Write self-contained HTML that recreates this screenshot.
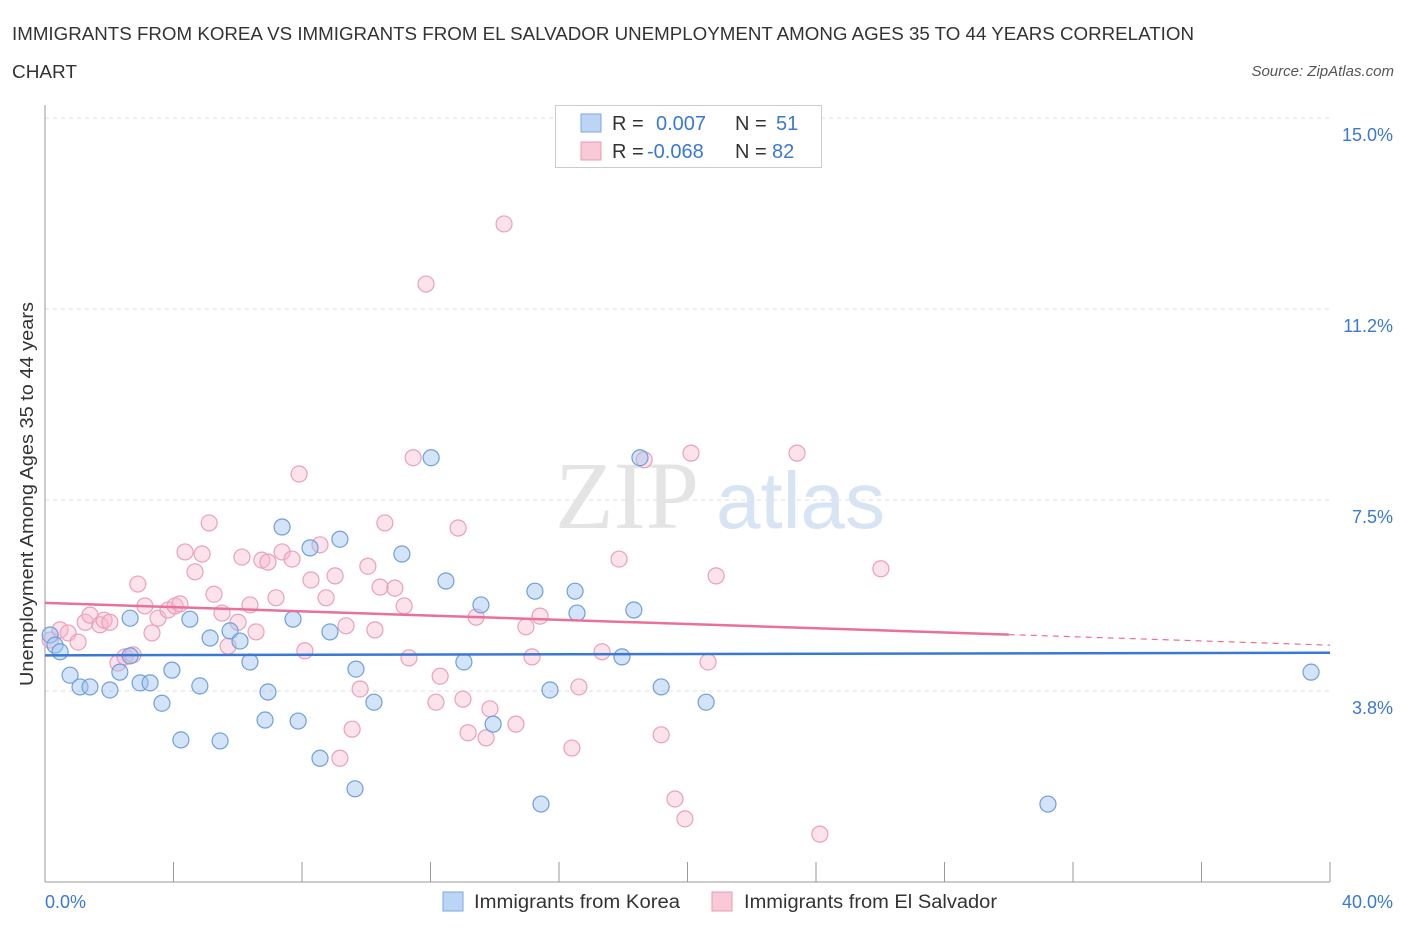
<!DOCTYPE html>
<html><head><meta charset="utf-8">
<style>
body{margin:0;background:#fff;font-family:"Liberation Sans",sans-serif;}
svg{display:block}
</style></head>
<body>
<svg id="chart" width="1406" height="930">
<text x="12" y="40" font-size="18" fill="#333" textLength="1182" lengthAdjust="spacingAndGlyphs">IMMIGRANTS FROM KOREA VS IMMIGRANTS FROM EL SALVADOR UNEMPLOYMENT AMONG AGES 35 TO 44 YEARS CORRELATION</text>
<text x="12" y="78" font-size="18" fill="#333" textLength="65" lengthAdjust="spacingAndGlyphs">CHART</text>
<text x="1394" y="76" font-size="15" fill="#555" font-style="italic" text-anchor="end">Source: ZipAtlas.com</text>
<g id="grid"></g>
<g>
<text x="555" y="528" font-size="96" fill="#e4e4e4" font-family="Liberation Serif,serif">ZIP</text>
<text x="716" y="528" font-size="80" fill="#d6e4f4">atlas</text>
</g>
<g id="axes"></g>
<g id="pts"></g>
<g id="trend"></g>
<text transform="translate(33,494) rotate(-90)" font-size="18" fill="#333" text-anchor="middle" textLength="384" lengthAdjust="spacingAndGlyphs">Unemployment Among Ages 35 to 44 years</text>
<g>
<rect x="555.5" y="105.5" width="266" height="62" fill="#fff" stroke="#ccc"/>
<rect x="581" y="114" width="20" height="18" fill="#bcd5f5" stroke="#7aa6e0"/>
<rect x="581" y="142" width="20" height="18" fill="#f9c9d8" stroke="#e99ab5"/>
<text x="612" y="130" font-size="20" fill="#333">R = <tspan fill="#3a78d4" x="656">0.007</tspan><tspan x="735">N = </tspan><tspan fill="#3a78d4" x="776">51</tspan></text>
<text x="612" y="158" font-size="20" fill="#333">R = <tspan fill="#3a78d4" x="647">-0.068</tspan><tspan x="735">N = </tspan><tspan fill="#3a78d4" x="772">82</tspan></text>
</g>
<g>
<rect x="443" y="892" width="20" height="19" fill="#bcd5f5" stroke="#7aa6e0"/>
<text x="474" y="908" font-size="19" fill="#333" textLength="206" lengthAdjust="spacingAndGlyphs">Immigrants from Korea</text>
<rect x="712" y="892" width="20" height="19" fill="#f9c9d8" stroke="#e99ab5"/>
<text x="744" y="908" font-size="19" fill="#333" textLength="253" lengthAdjust="spacingAndGlyphs">Immigrants from El Salvador</text>
</g>
</svg>
<script>
const koreaX=[0.16,0.31,0.47,0.78,1.09,1.40,2.02,2.33,2.65,2.65,2.96,3.27,3.64,3.95,4.23,4.51,4.82,5.14,5.45,5.76,6.07,6.38,6.85,6.94,7.38,7.72,7.88,8.25,8.56,8.87,9.18,9.65,9.68,10.24,11.11,12.02,12.48,13.04,13.57,13.95,15.25,15.44,15.72,16.50,16.56,17.96,18.33,18.52,19.18,20.58,31.22,39.41];
const koreaY=[4.85,4.65,4.52,4.06,3.83,3.83,3.77,4.12,5.18,4.44,3.91,3.91,3.51,4.16,2.79,5.16,3.85,4.79,2.77,4.93,4.73,4.32,3.18,3.73,6.97,5.16,3.16,6.56,2.43,4.91,6.73,1.83,4.18,3.53,6.44,8.33,5.91,4.32,5.44,3.10,5.71,1.53,3.77,5.71,5.28,4.42,5.34,8.33,3.83,3.53,1.53,4.12];
const salvX=[0.16,0.47,0.72,1.03,1.25,1.40,1.71,1.84,2.02,2.27,2.49,2.74,2.89,3.11,3.33,3.52,3.83,4.05,4.20,4.36,4.67,4.89,5.11,5.26,5.51,5.70,6.01,6.13,6.38,6.57,6.75,6.94,7.19,7.38,7.69,7.91,8.09,8.28,8.56,8.75,9.03,9.18,9.37,9.56,9.81,10.05,10.27,10.43,10.58,10.89,11.18,11.33,11.46,11.86,12.17,12.30,12.86,13.01,13.17,13.42,13.73,13.85,14.29,14.66,14.97,15.16,15.41,16.40,16.62,17.34,17.87,18.65,19.18,19.61,19.92,20.11,20.64,20.89,23.41,24.12,26.02];
const salvY=[4.75,4.95,4.89,4.71,5.10,5.24,5.05,5.14,5.10,4.30,4.42,4.46,5.85,5.42,4.89,5.18,5.34,5.42,5.46,6.48,6.09,6.44,7.05,5.65,5.28,4.63,5.10,6.38,5.44,4.91,6.32,6.28,5.58,6.48,6.34,8.01,4.54,5.93,6.62,5.58,6.01,2.43,5.03,3.00,3.79,6.20,4.95,5.79,7.05,5.77,5.42,4.40,8.33,11.74,3.53,4.04,6.95,3.59,2.93,5.20,2.83,3.40,12.92,3.10,5.01,4.42,5.22,2.63,3.83,4.52,6.34,8.29,2.89,1.63,1.24,8.42,4.32,6.01,8.42,0.94,6.15];
const yTicks=[3.75,7.5,11.25,15.0];
const yTickLabels=["3.8%","7.5%","11.2%","15.0%"];
const koreaTrend=[4.45,4.50];
const salvTrend=[5.48,4.65];
const salvSolidEnd=30.0;

const X=v=>45+v/40*1285, Y=v=>882-v/3.75*191;
const NS="http://www.w3.org/2000/svg";
function mk(tag,parent,attrs){const e=document.createElementNS(NS,tag);for(const k in attrs)e.setAttribute(k,attrs[k]);parent.appendChild(e);return e;}
const grid=document.getElementById('grid'),axes=document.getElementById('axes'),pts=document.getElementById('pts'),trend=document.getElementById('trend');
yTicks.forEach((t,i)=>{
 const l=mk('line',grid,{x1:45,x2:1330,y1:Y(t),y2:Y(t),stroke:'#ddd','stroke-dasharray':'4,4'});
 
 
 const tx=mk('text',axes,{x:1393,y:Y(t)+23,'font-size':18,fill:'#3a78d4','text-anchor':'end'});
 tx.textContent=yTickLabels[i];
 
 
});
const ya=mk('line',axes,{x1:45,x2:45,y1:105,y2:882,stroke:'#999'});


const xa=mk('line',axes,{x1:45,x2:1330,y1:882,y2:882,stroke:'#999'});


for(let i=1;i<=10;i++){
 const t=mk('line',axes,{x1:X(i*4),x2:X(i*4),y1:862,y2:882,stroke:'#999'});
 
 
}
const xl0=mk('text',axes,{x:45,y:908,'font-size':18,fill:'#3a78d4'});xl0.textContent='0.0%';


const xl1=mk('text',axes,{x:1393,y:908,'font-size':18,fill:'#3a78d4','text-anchor':'end'});xl1.textContent='40.0%';


salvX.forEach((x,i)=>{
 const c=mk('circle',pts,{cx:X(x),cy:Y(salvY[i]),r:8,fill:'rgba(246,182,204,0.4)',stroke:'#eba0ba','stroke-width':1.2});
 
 
});
koreaX.forEach((x,i)=>{
 const c=mk('circle',pts,{cx:X(x),cy:Y(koreaY[i]),r:8,fill:'rgba(160,196,240,0.45)',stroke:'#6e9fdc','stroke-width':1.2});
 
 
});
const kl=mk('line',trend,{x1:X(0),x2:X(40),y1:Y(koreaTrend[0]),y2:Y(koreaTrend[1]),stroke:'#3a78d4','stroke-width':2.5});


const sAt=x=>salvTrend[0]+(salvTrend[1]-salvTrend[0])*x/40;
const sl=mk('line',trend,{x1:X(0),x2:X(salvSolidEnd),y1:Y(sAt(0)),y2:Y(sAt(salvSolidEnd)),stroke:'#e8709a','stroke-width':2.5});


const sd=mk('line',trend,{x1:X(salvSolidEnd),x2:X(40),y1:Y(sAt(salvSolidEnd)),y2:Y(sAt(40)),stroke:'#e8709a','stroke-width':1.2,'stroke-dasharray':'6,5'});


</script>
</body></html>
